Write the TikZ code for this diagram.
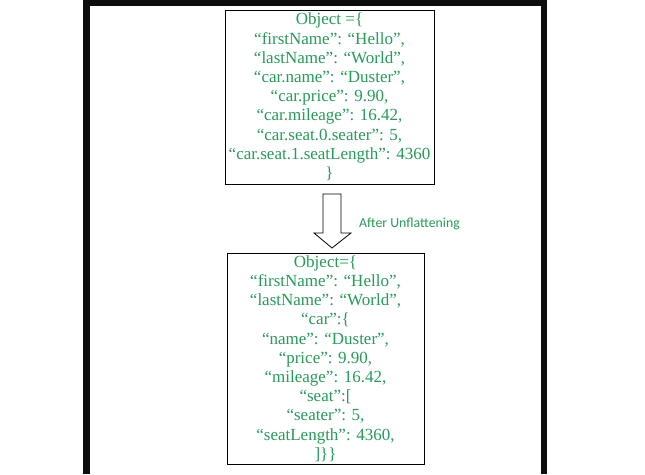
\documentclass[tikz,border=0pt]{standalone}
\usepackage{fontspec}
\setmainfont{Liberation Serif}
\newfontfamily\labelfont{Carlito}
\definecolor{jsongreen}{RGB}{38,156,88}
\definecolor{framegray}{RGB}{13,13,13}
\tikzset{jsonbox/.style={draw=black, line width=0.8pt, align=center, inner sep=0pt, text=jsongreen, font=\fontsize{17}{19.2}\selectfont}}
\begin{document}
\begin{tikzpicture}[x=1pt, y=-1pt, line join=miter]
				\useasboundingbox (0,0) rectangle (645,474);
				\fill[white] (0,0) rectangle (645,474);
				\def\lx{86.5}\def\rx{544}\def\ty{2.5}
				\draw[framegray, line width=6.8pt] (\lx,474)--(\lx,\ty)--(\rx,\ty)--(\rx,474);
				\node[jsonbox, minimum width=209pt, minimum height=174pt] (flat) at (329.5,97) {Object =\{\\
					“firstName”: “Hello”,\\
					“lastName”: “World”,\\
					“car.name”: “Duster”,\\
					“car.price”: 9.90,\\
					“car.mileage”: 16.42,\\
					“car.seat.0.seater”: 5,\\
					“car.seat.1.seatLength”: 4360\\
					\}};
				\node[jsonbox, minimum width=197pt, minimum height=211pt] (unflat) at (325.5,358.5) {Object=\{\\
					“firstName”: “Hello”,\\
					“lastName”: “World”,\\
					“car”:\{\\
					“name”: “Duster”,\\
					“price”: 9.90,\\
					“mileage”: 16.42,\\
					“seat”:[\\
					“seater”: 5,\\
					“seatLength”: 4360,\\
					]\}\}};
				% block arrow between the boxes
				\draw[line width=0.8pt] (323,194)--(341,194)--(341,233)--(351,233)--(332,248)--(314,233)--(323,233)--cycle;
				\node[anchor=west, text=jsongreen, font=\labelfont\fontsize{13.8}{16}\selectfont, inner sep=0pt] (step) at (359,224) {After Unflattening};
			\end{tikzpicture}
\end{document}
